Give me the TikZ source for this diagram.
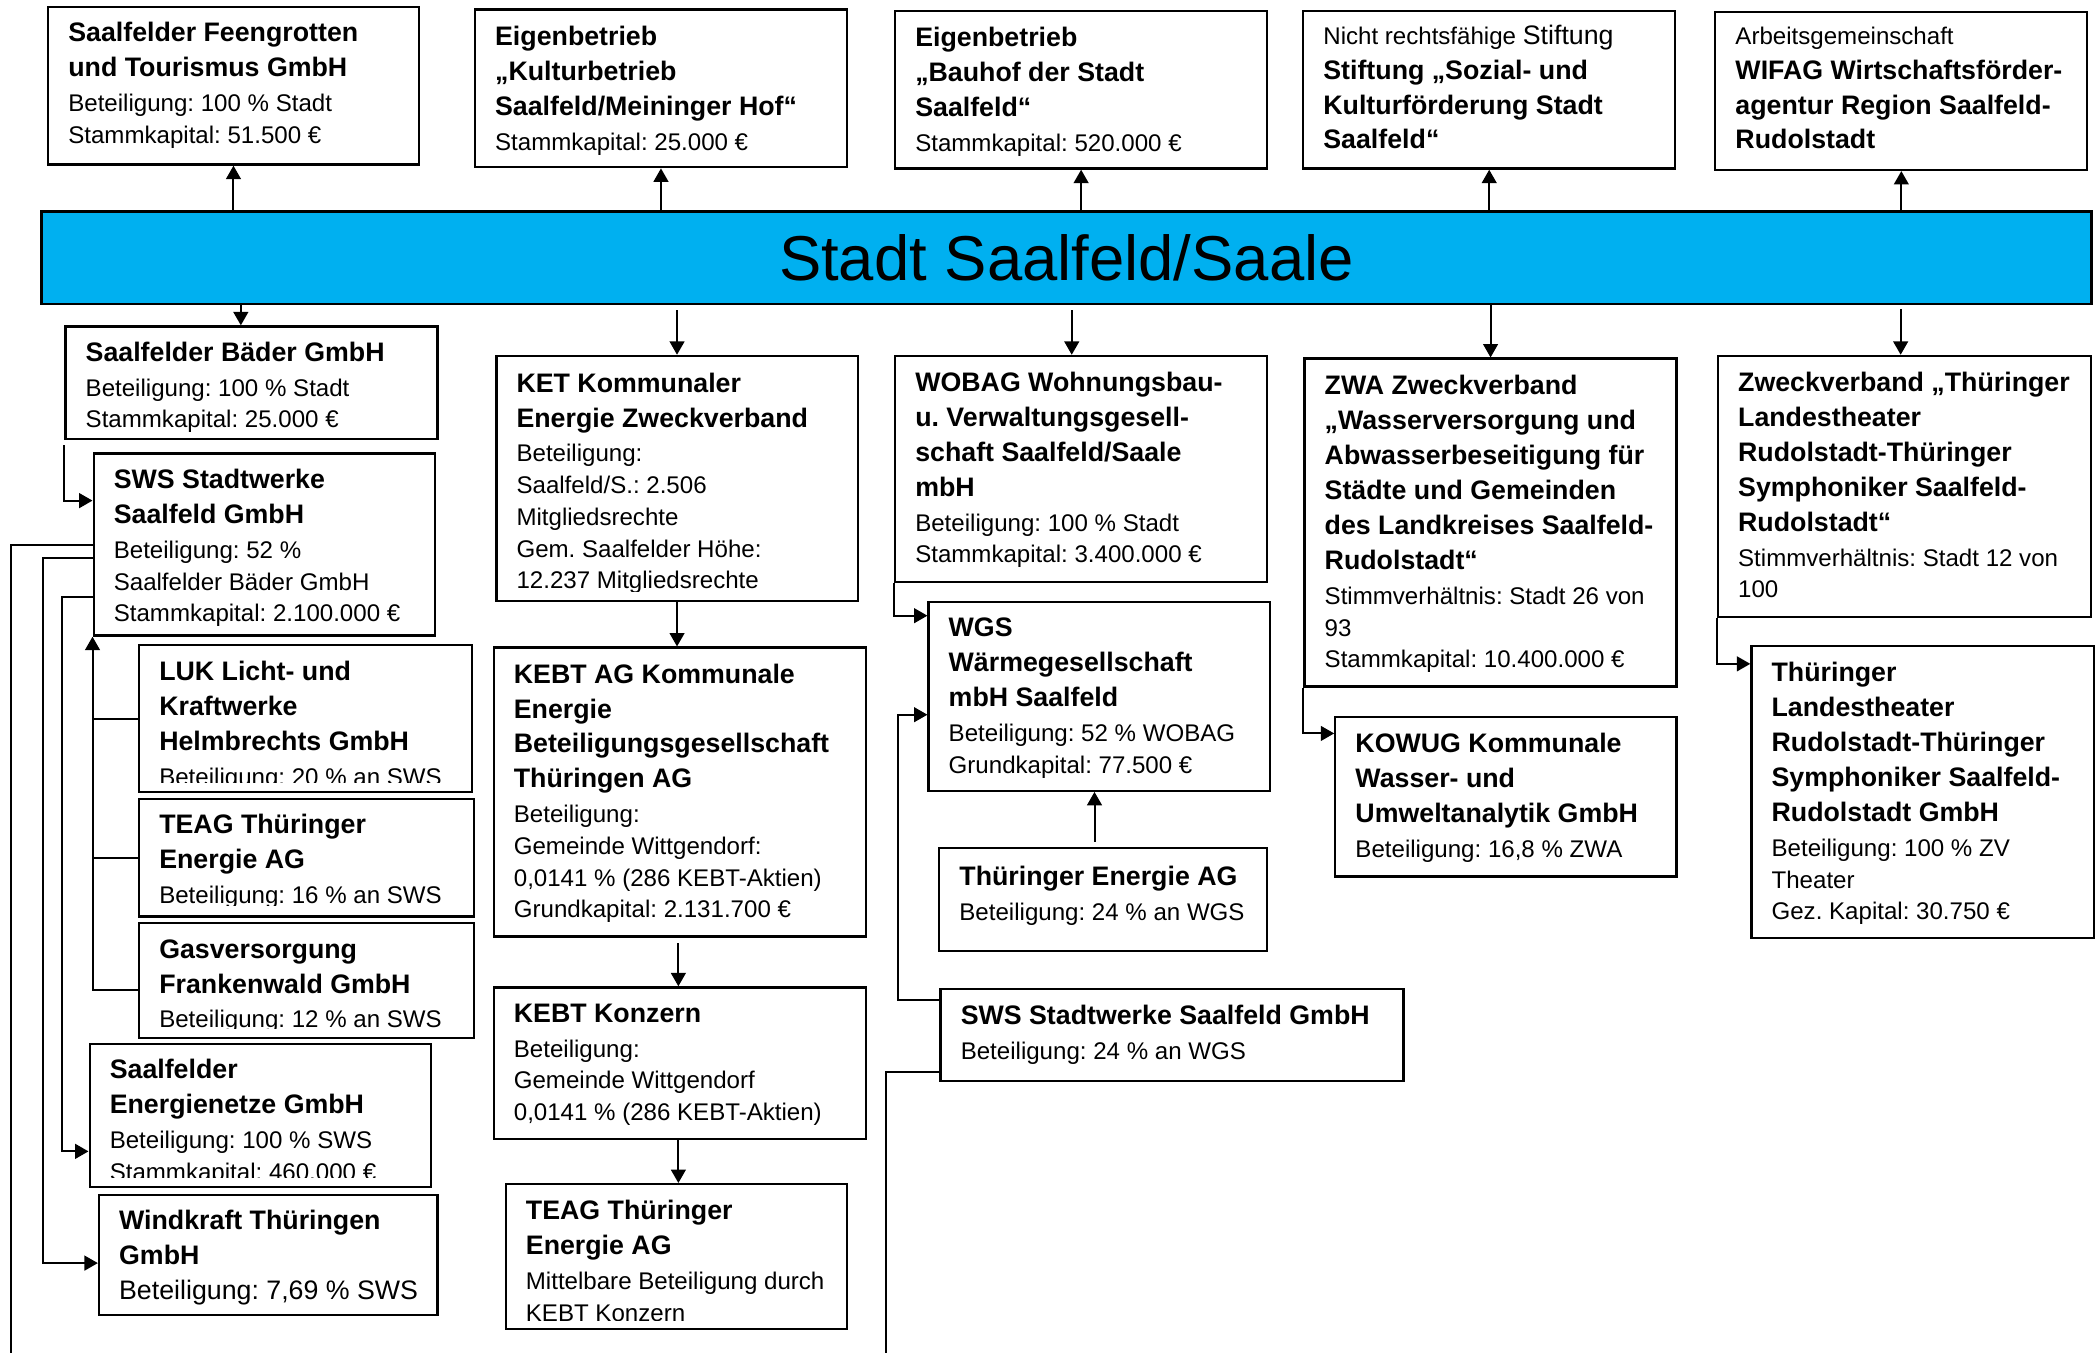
\documentclass[tikz,border=0pt]{standalone}
\usepackage{fontspec}
\setmainfont{Liberation Sans}
\usetikzlibrary{arrows.meta,fit,calc}
\definecolor{barblue}{RGB}{0,176,240}
\frenchspacing
\newcommand\B[1]{{\fontsize{10}{11.85}\selectfont\bfseries #1}}
\newcommand\M[1]{{\fontsize{10}{11.85}\selectfont #1}}
\tikzset{
  box/.style={draw, line width=0.85pt, inner sep=0pt},
  txt/.style={anchor=north west, inner sep=0pt, align=left, font=\fontsize{9}{11.85}\selectfont},
  conn/.style={line width=0.75pt},
  arr/.style={conn, -{Triangle[length=5pt,width=5.5pt]}},
}
% #1 clip inset, #2 name, #3-#6 corners, #7 text offset, #8 text
\newcommand\orgbox[8][7]{%
  \node[box, fit={(#3,#4)(#5,#6)}] (#2) {};
  \begin{scope}
    \clip (#3,#4) rectangle (#5,#6-#1);
    \node[txt] (#2-t) at ([shift={(15.5,#7)}]#2.north west) {\frenchspacing\rule{0pt}{10pt}#8};
  \end{scope}}
\begin{document}
\begin{tikzpicture}[x=0.5pt,y=-0.5pt]
\fill[white] (0,0) rectangle (1568,1011);
\useasboundingbox (0,0) rectangle (1568,1011);

% ---------- top row
\orgbox{feeng}{36}{5}{313}{123}{6.5}{\B{Saalfelder Feengrotten}\\[1.2pt]\B{und Tourismus GmbH}\\[1.2pt]Beteiligung: 100 \% Stadt\\Stammkapital: 51.500 €}
\orgbox{kultur}{355}{7}{633}{125}{7.5}{\B{Eigenbetrieb}\\[1.2pt]\B{„Kulturbetrieb}\\[1.2pt]\B{Saalfeld/Meininger Hof“}\\[1.2pt]Stammkapital: 25.000 €}
\orgbox{bauhof}{669}{8}{947}{126}{7.5}{\B{Eigenbetrieb}\\[1.2pt]\B{„Bauhof der Stadt}\\[1.2pt]\B{Saalfeld“}\\[1.2pt]Stammkapital: 520.000 €}
\orgbox{stift}{974}{8}{1252}{126}{5.5}{Nicht rechtsfähige \M{Stiftung}\\[1.2pt]\B{Stiftung „Sozial- und}\\[1.2pt]\B{Kulturförderung Stadt}\\[1.2pt]\B{Saalfeld“}}
\orgbox{wifag}{1282}{9}{1560}{127}{4.5}{Arbeitsgemeinschaft\\[1.2pt]\B{WIFAG Wirtschaftsförder-}\\[1.2pt]\B{agentur Region Saalfeld-}\\[1.2pt]\B{Rudolstadt}}

% ---------- city bar
\node[draw, line width=0.9pt, fill=barblue, inner sep=0pt, fit={(31,158)(1563,227)}] (bar) {};
\node[inner sep=0pt, font=\fontsize{23.7}{28}\selectfont] (bar-t) at (bar.center) {Stadt Saalfeld/Saale};

% ---------- left column
\orgbox[3]{baeder}{49}{244}{327}{328}{6.5}{\B{Saalfelder Bäder GmbH}\\[1.2pt]Beteiligung: 100 \% Stadt\\Stammkapital: 25.000 €}
\orgbox{sws}{70}{339}{325}{475}{6.5}{\B{SWS Stadtwerke}\\[1.2pt]\B{Saalfeld GmbH}\\[1.2pt]Beteiligung: 52 \%\\Saalfelder Bäder GmbH\\Stammkapital: 2.100.000 €}
\orgbox{luk}{104}{482}{353}{592}{7}{\B{LUK Licht- und}\\[1.2pt]\B{Kraftwerke}\\[1.2pt]\B{Helmbrechts GmbH}\\[1.2pt]Beteiligung: 20 \% an SWS}
\orgbox[8]{teagl}{104}{597}{354}{685}{6.5}{\B{TEAG Thüringer}\\[1.2pt]\B{Energie AG}\\[1.2pt]Beteiligung: 16 \% an SWS}
\orgbox[7.5]{gas}{104}{690}{354}{776}{6.5}{\B{Gasversorgung}\\[1.2pt]\B{Frankenwald GmbH}\\[1.2pt]Beteiligung: 12 \% an SWS}
\orgbox{netze}{67}{780}{322}{887}{6.5}{\B{Saalfelder}\\[1.2pt]\B{Energienetze GmbH}\\[1.2pt]Beteiligung: 100 \% SWS\\Stammkapital: 460.000 €}
\orgbox{wind}{74}{893}{327}{983}{6.5}{\B{Windkraft Thüringen}\\[1.2pt]\B{GmbH}\\[1.2pt]\M{Beteiligung: 7,69 \% SWS}}

% ---------- KET column
\orgbox{ket}{371}{266}{641}{449}{7.5}{\B{KET Kommunaler}\\[1.2pt]\B{Energie Zweckverband}\\[1.2pt]Beteiligung:\\Saalfeld/S.: 2.506\\Mitgliedsrechte\\Gem. Saalfelder Höhe:\\12.237 Mitgliedsrechte}
\orgbox{kebt}{369}{484}{647}{700}{7}{\B{KEBT AG Kommunale}\\[1.2pt]\B{Energie}\\[1.2pt]\B{Beteiligungsgesellschaft}\\[1.2pt]\B{Thüringen AG}\\[1.2pt]Beteiligung:\\Gemeinde Wittgendorf:\\0,0141 \% (286 KEBT-Aktien)\\Grundkapital: 2.131.700 €}
\orgbox{konz}{369}{738}{647}{851}{6.5}{\B{KEBT Konzern}\\[1.2pt]Beteiligung:\\Gemeinde Wittgendorf\\0,0141 \% (286 KEBT-Aktien)}
\orgbox[6]{teagb}{378}{885}{633}{993}{7}{\B{TEAG Thüringer}\\[1.2pt]\B{Energie AG}\\[1.2pt]Mittelbare Beteiligung durch\\KEBT Konzern}

% ---------- WOBAG column
\orgbox{wobag}{669}{266}{947}{435}{7}{\B{WOBAG Wohnungsbau-}\\[1.2pt]\B{u. Verwaltungsgesell-}\\[1.2pt]\B{schaft Saalfeld/Saale}\\[1.2pt]\B{mbH}\\[1.2pt]Beteiligung: 100 \% Stadt\\Stammkapital: 3.400.000 €}
\orgbox{wgs}{694}{450}{949}{591}{6.5}{\B{WGS}\\[1.2pt]\B{Wärmegesellschaft}\\[1.2pt]\B{mbH Saalfeld}\\[1.2pt]Beteiligung: 52 \% WOBAG\\Grundkapital: 77.500 €}
\orgbox{the}{702}{634}{947}{711}{8}{\B{Thüringer Energie AG}\\[1.2pt]Beteiligung: 24 \% an WGS}
\orgbox{sws2}{703}{739}{1049}{808}{7}{\B{SWS Stadtwerke Saalfeld GmbH}\\[1.2pt]Beteiligung: 24 \% an WGS}

% ---------- ZWA column
\orgbox{zwa}{975}{268}{1253}{513}{7.5}{\B{ZWA Zweckverband}\\[1.2pt]\B{„Wasserversorgung und}\\[1.2pt]\B{Abwasserbeseitigung für}\\[1.2pt]\B{Städte und Gemeinden}\\[1.2pt]\B{des Landkreises Saalfeld-}\\[1.2pt]\B{Rudolstadt“}\\[1.2pt]Stimmverhältnis: Stadt 26 von\\93\\Stammkapital: 10.400.000 €}
\orgbox{kowug}{998}{536}{1253}{655}{7}{\B{KOWUG Kommunale}\\[1.2pt]\B{Wasser- und}\\[1.2pt]\B{Umweltanalytik GmbH}\\[1.2pt]Beteiligung: 16,8 \% ZWA}

% ---------- theatre column
\orgbox{zv}{1284}{266}{1563}{461}{7}{\B{Zweckverband „Thüringer}\\[1.2pt]\B{Landestheater}\\[1.2pt]\B{Rudolstadt-Thüringer}\\[1.2pt]\B{Symphoniker Saalfeld-}\\[1.2pt]\B{Rudolstadt“}\\[1.2pt]Stimmverhältnis: Stadt 12 von\\100}
\orgbox{tlt}{1309}{483}{1565}{701}{7}{\B{Thüringer}\\[1.2pt]\B{Landestheater}\\[1.2pt]\B{Rudolstadt-Thüringer}\\[1.2pt]\B{Symphoniker Saalfeld-}\\[1.2pt]\B{Rudolstadt GmbH}\\[1.2pt]Beteiligung: 100 \% ZV\\Theater\\Gez. Kapital: 30.750 €}

% ---------- connectors: city to top row
\foreach \n in {feeng,kultur,bauhof,stift,wifag}
  \draw[arr] (bar.north -| \n.south) -- (\n.south);

% ---------- connectors: city to second row
\coordinate (bd) at ($(baeder.north)+(-8,0)$);
\draw[arr] (bd |- bar.south) -- (bd);
\draw[arr] ($(ket.north |- bar.south)+(0,4)$) -- (ket.north);
\coordinate (wb) at ($(wobag.north)+(-7,0)$);
\draw[arr] ($(wb |- bar.south)+(0,4)$) -- (wb);
\draw[arr] (zwa.north |- bar.south) -- (zwa.north);
\coordinate (zvt) at ($(zv.north)+(-3,0)$);
\draw[arr] ($(zvt |- bar.south)+(0,3)$) -- (zvt);

% ---------- left column connectors
\draw[arr] ($(baeder.south west)+(0,4)$) |- ($(sws.north west)+(0,36)$);
\coordinate (bl) at (8,1011);
\draw[conn] (sws.west) -| (bl);
\draw[arr] ($(sws.north west)+(0,79)$) -- ++(-37,0) |- ($(wind.west)+(0,6)$);
\draw[arr] ($(sws.north west)+(0,108)$) -- ++(-23,0) |- ($(netze.west)+(0,27)$);
\draw[arr] ($(gas.west)+(0,7)$) -| (sws.south west);
\draw[conn] (luk.west) -- (luk.west -| sws.south west);
\draw[conn] (teagl.west) -- (teagl.west -| sws.south west);

% ---------- KET chain
\draw[arr] (ket.south) -- (ket.south |- kebt.north);
\draw[arr] ($(kebt.south)+(-1,4)$) -- ($(kebt.south |- konz.north)+(-1,0)$);
\draw[arr] ($(konz.south)+(-1,0)$) -- ($(konz.south |- teagb.north)+(-1,0)$);

% ---------- WOBAG / WGS
\draw[arr] (wobag.south west) |- ($(wgs.north west)+(0,11)$);
\coordinate (th) at ($(the.north)+(-6.5,-4)$);
\draw[arr] (th) -- (th |- wgs.south);
\draw[arr] ($(sws2.north west)+(0,9)$) -- ++(-31,0) |- ($(wgs.north west)+(0,85)$);
\coordinate (br) at (662,1011);
\draw[conn] ($(sws2.south west)+(0,-8)$) -| (br);

% ---------- ZWA / theatre
\draw[arr] (zwa.south west) |- ($(kowug.north west)+(0,13)$);
\draw[arr] (zv.south west) |- ($(tlt.north west)+(0,14)$);
\end{tikzpicture}
\end{document}
